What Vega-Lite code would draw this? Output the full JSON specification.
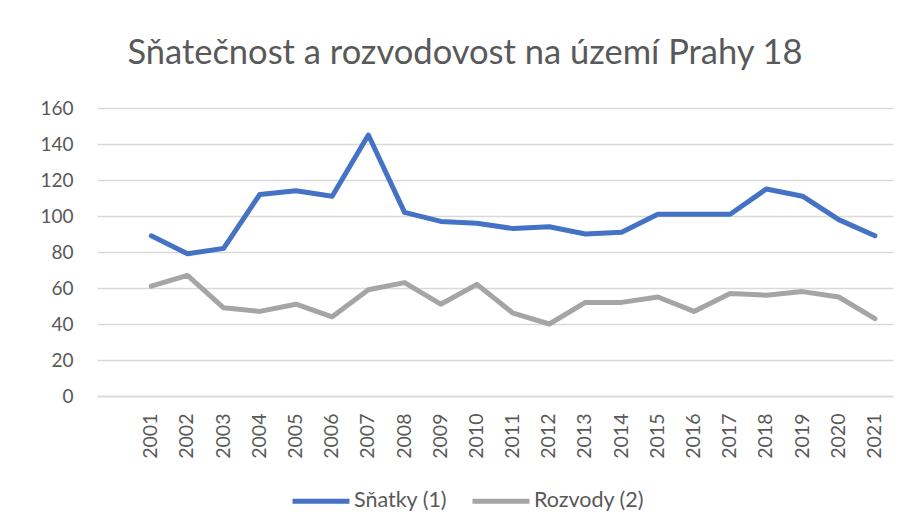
{
  "$schema": "https://vega.github.io/schema/vega-lite/v6.json",
  "width": 796,
  "height": 288,
  "autosize": "none",
  "padding": {"left": 97, "top": 108, "right": 17, "bottom": 135},
  "background": "white",
  "title": {
    "text": "Sňatečnost a rozvodovost na území Prahy 18",
    "font": "Lato",
    "fontSize": 34.5,
    "fontWeight": "normal",
    "color": "#595959",
    "anchor": "middle",
    "dx": -30,
    "offset": 28
  },
  "data": {
    "values": [
      {"rok": "2001", "serie": "Sňatky (1)", "hodnota": 89},
      {"rok": "2002", "serie": "Sňatky (1)", "hodnota": 79},
      {"rok": "2003", "serie": "Sňatky (1)", "hodnota": 82},
      {"rok": "2004", "serie": "Sňatky (1)", "hodnota": 112},
      {"rok": "2005", "serie": "Sňatky (1)", "hodnota": 114},
      {"rok": "2006", "serie": "Sňatky (1)", "hodnota": 111},
      {"rok": "2007", "serie": "Sňatky (1)", "hodnota": 145},
      {"rok": "2008", "serie": "Sňatky (1)", "hodnota": 102},
      {"rok": "2009", "serie": "Sňatky (1)", "hodnota": 97},
      {"rok": "2010", "serie": "Sňatky (1)", "hodnota": 96},
      {"rok": "2011", "serie": "Sňatky (1)", "hodnota": 93},
      {"rok": "2012", "serie": "Sňatky (1)", "hodnota": 94},
      {"rok": "2013", "serie": "Sňatky (1)", "hodnota": 90},
      {"rok": "2014", "serie": "Sňatky (1)", "hodnota": 91},
      {"rok": "2015", "serie": "Sňatky (1)", "hodnota": 101},
      {"rok": "2016", "serie": "Sňatky (1)", "hodnota": 101},
      {"rok": "2017", "serie": "Sňatky (1)", "hodnota": 101},
      {"rok": "2018", "serie": "Sňatky (1)", "hodnota": 115},
      {"rok": "2019", "serie": "Sňatky (1)", "hodnota": 111},
      {"rok": "2020", "serie": "Sňatky (1)", "hodnota": 98},
      {"rok": "2021", "serie": "Sňatky (1)", "hodnota": 89},
      {"rok": "2001", "serie": "Rozvody (2)", "hodnota": 61},
      {"rok": "2002", "serie": "Rozvody (2)", "hodnota": 67},
      {"rok": "2003", "serie": "Rozvody (2)", "hodnota": 49},
      {"rok": "2004", "serie": "Rozvody (2)", "hodnota": 47},
      {"rok": "2005", "serie": "Rozvody (2)", "hodnota": 51},
      {"rok": "2006", "serie": "Rozvody (2)", "hodnota": 44},
      {"rok": "2007", "serie": "Rozvody (2)", "hodnota": 59},
      {"rok": "2008", "serie": "Rozvody (2)", "hodnota": 63},
      {"rok": "2009", "serie": "Rozvody (2)", "hodnota": 51},
      {"rok": "2010", "serie": "Rozvody (2)", "hodnota": 62},
      {"rok": "2011", "serie": "Rozvody (2)", "hodnota": 46},
      {"rok": "2012", "serie": "Rozvody (2)", "hodnota": 40},
      {"rok": "2013", "serie": "Rozvody (2)", "hodnota": 52},
      {"rok": "2014", "serie": "Rozvody (2)", "hodnota": 52},
      {"rok": "2015", "serie": "Rozvody (2)", "hodnota": 55},
      {"rok": "2016", "serie": "Rozvody (2)", "hodnota": 47},
      {"rok": "2017", "serie": "Rozvody (2)", "hodnota": 57},
      {"rok": "2018", "serie": "Rozvody (2)", "hodnota": 56},
      {"rok": "2019", "serie": "Rozvody (2)", "hodnota": 58},
      {"rok": "2020", "serie": "Rozvody (2)", "hodnota": 55},
      {"rok": "2021", "serie": "Rozvody (2)", "hodnota": 43}
    ]
  },
  "mark": {"type": "line", "strokeWidth": 5, "strokeCap": "round", "strokeJoin": "round"},
  "encoding": {
    "x": {
      "field": "rok",
      "type": "ordinal",
      "scale": {
        "type": "band",
        "domain": [" ", "2001", "2002", "2003", "2004", "2005", "2006", "2007", "2008", "2009", "2010", "2011", "2012", "2013", "2014", "2015", "2016", "2017", "2018", "2019", "2020", "2021"],
        "paddingInner": 0,
        "paddingOuter": 0
      },
      "axis": {
        "title": null,
        "labelAngle": -90,
        "labelAlign": "right",
        "labelBaseline": "middle",
        "labelPadding": 17,
        "labelFont": "Lato",
        "labelFontSize": 19.5,
        "labelColor": "#595959",
        "ticks": false,
        "domain": true,
        "domainColor": "#d9d9d9",
        "domainWidth": 1.5,
        "grid": false
      }
    },
    "y": {
      "field": "hodnota",
      "type": "quantitative",
      "scale": {"domain": [0, 160]},
      "axis": {
        "title": null,
        "values": [0, 20, 40, 60, 80, 100, 120, 140, 160],
        "labelPadding": 24,
        "labelFont": "Lato",
        "labelFontSize": 19,
        "labelColor": "#595959",
        "ticks": false,
        "domain": false,
        "grid": true,
        "gridColor": "#d9d9d9",
        "gridWidth": 1.5
      }
    },
    "color": {
      "field": "serie",
      "type": "nominal",
      "scale": {"domain": ["Sňatky (1)", "Rozvody (2)"], "range": ["#4472C4", "#A5A5A5"]},
      "legend": {
        "title": null,
        "orient": "none",
        "legendX": 193,
        "legendY": 362,
        "direction": "horizontal",
        "symbolType": "stroke",
        "symbolSize": 3249,
        "symbolStrokeWidth": 5,
        "labelFont": "Lato",
        "labelFontSize": 21.5,
        "labelColor": "#595959",
        "labelOffset": 2,
        "columnPadding": 14
      }
    }
  },
  "config": {"view": {"stroke": null}}
}
